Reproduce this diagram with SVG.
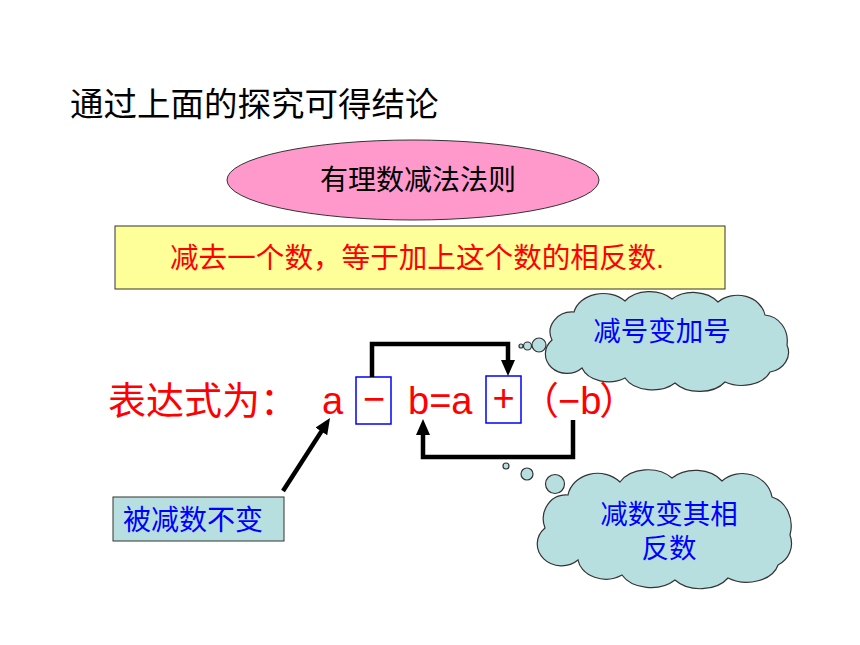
<svg xmlns="http://www.w3.org/2000/svg" width="860" height="645" viewBox="0 0 860 645">
<style>
.cjk{font-family:"Noto Sans CJK SC","Liberation Sans",sans-serif}
.lat{font-family:"Liberation Sans","Noto Sans CJK SC",sans-serif}
.red{fill:#ff0000}
.blue{fill:#0000ff}
.cloud{fill:#b7dfe0;stroke:#333;stroke-width:1.2}
.conn{fill:none;stroke:#000;stroke-width:4.5;stroke-linejoin:miter}
.box{fill:none;stroke:#0000ff;stroke-width:1.5}
</style>
<defs>
<marker id="ah" markerUnits="userSpaceOnUse" markerWidth="18" markerHeight="16" refX="4" refY="7" orient="auto">
<path d="M0,0 L16,7 L0,14 z" fill="#000"/>
</marker>
</defs>
<rect width="860" height="645" fill="#fff"/>

<g id="title">
<text class="cjk" x="70" y="116" font-size="33.5" fill="#000">通过上面的探究可得结论</text>
</g>

<g id="rule-title">
<ellipse cx="413" cy="180" rx="186" ry="40" fill="#ff99cc" stroke="#333" stroke-width="1"/>
<text class="cjk" x="418" y="190" font-size="28" fill="#000" text-anchor="middle">有理数减法法则</text>
</g>

<g id="rule-box">
<rect x="115" y="226" width="610" height="63" fill="#ffff99" stroke="#333" stroke-width="1"/>
<text class="cjk red" x="170" y="268" font-size="28.6">减去一个数，等于加上这个数的相反数<tspan class="lat">.</tspan></text>
</g>

<g id="expression">
<text class="cjk red" x="108" y="414" font-size="38">表达式为：</text>
<text class="lat red" x="322" y="414" font-size="38">a</text>
<rect class="box" x="356" y="377" width="35" height="47"/>
<text class="lat red" x="374" y="412" font-size="38" text-anchor="middle">−</text>
<text class="lat red" x="408" y="414" font-size="38">b=a</text>
<rect class="box" x="486" y="376" width="35" height="47"/>
<text class="lat red" x="503.5" y="411" font-size="38" text-anchor="middle">+</text>
<text class="cjk red" x="521" y="414" font-size="38">（<tspan class="lat" dx="-1">−b</tspan><tspan dx="-2">）</tspan></text>
</g>

<g id="minuend-box">
<rect x="113" y="497" width="171" height="44" fill="#b7dfe0" stroke="#333" stroke-width="1"/>
<text class="cjk blue" x="123" y="530" font-size="28">被减数不变</text>
</g>

<g id="cloud-sign">
<circle class="cloud" cx="521" cy="346" r="2"/>
<circle class="cloud" cx="527.5" cy="346" r="4"/>
<circle class="cloud" cx="539" cy="345" r="7"/>
<path class="cloud" d="M552,340 A22,20 0 0 1 574,312 A30,24 0 0 1 625,301 A30,22 0 0 1 672,299 A30,22 0 0 1 718,302 A28,24 0 0 1 765,315 A24,26 0 0 1 787,345 A22,20 0 0 1 770,372 A30,20 0 0 1 725,382 A30,20 0 0 1 675,383 A30,20 0 0 1 625,378 A28,20 0 0 1 582,368 A20,18 0 0 1 552,340 Z"/>
<text class="cjk blue" x="662" y="341" font-size="27.5" text-anchor="middle">减号变加号</text>
</g>

<g id="cloud-opposite">
<circle class="cloud" cx="506" cy="466" r="3"/>
<circle class="cloud" cx="527" cy="474" r="6"/>
<circle class="cloud" cx="555" cy="484" r="9.5"/>
<path class="cloud" d="M545,528 A22,24 0 0 1 568,495 A30,26 0 0 1 620,482 A32,24 0 0 1 672,478 A32,24 0 0 1 722,481 A30,28 0 0 1 772,497 A26,30 0 0 1 790,535 A24,24 0 0 1 778,565 A32,22 0 0 1 728,578 A32,22 0 0 1 675,580 A32,22 0 0 1 622,575 A28,22 0 0 1 578,560 A20,18 0 0 1 545,528 Z"/>
<text class="cjk blue" x="669" y="524" font-size="27.5" text-anchor="middle">减数变其相<tspan x="669" dy="34">反数</tspan></text>
</g>

<g id="connectors">
<path class="conn" d="M372,377 V344 H508 V364" marker-end="url(#ah)"/>
<path class="conn" d="M573,420 V457 H423 V431" marker-end="url(#ah)"/>
<path class="conn" d="M283,491 L323.5,428.1" marker-end="url(#ah)"/>
</g>
</svg>
